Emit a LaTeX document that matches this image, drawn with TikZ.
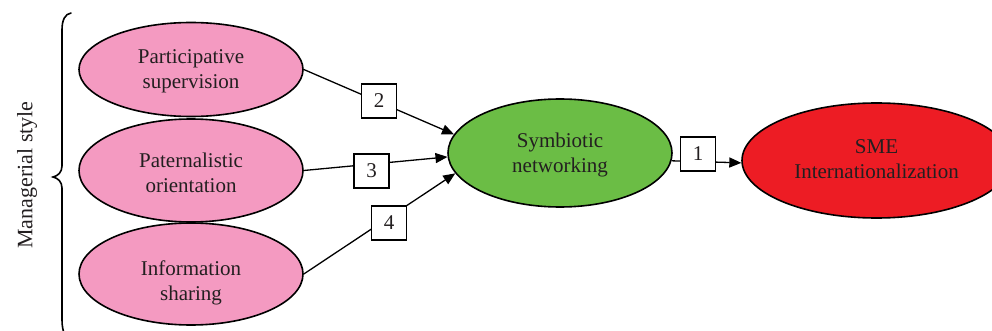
\documentclass[tikz,border=0pt]{standalone}
\usepackage{fontspec}
\setmainfont{Liberation Serif}
\usetikzlibrary{arrows.meta,shapes.geometric}
\definecolor{pinkfill}{HTML}{F49AC1}
\definecolor{greenfill}{HTML}{6BBD45}
\definecolor{redfill}{HTML}{ED1C24}
\definecolor{ink}{HTML}{231F20}
\begin{document}
\begin{tikzpicture}[x=1pt,y=-1pt,
  oval/.style={ellipse, draw=black, line width=1.6pt, inner sep=0pt},
  txt/.style={font=\fontsize{21}{25}\selectfont, align=center, text=ink, inner sep=0pt},
  numbox/.style={draw=black, fill=white, line width=1.6pt, minimum width=35pt, minimum height=34pt, inner sep=0pt, font=\fontsize{21}{25}\selectfont, text=ink},
  link/.style={line width=1.3pt, draw=black},
  arr/.style={link, -{Triangle[length=12pt,width=10pt]}}]
\clip (0,0) rectangle (992,331);
\fill[white] (0,0) rectangle (992,331);
% brace
\draw[line width=1.6pt, line cap=round] (71,13) .. controls (65,14) and (62,20) .. (62,30) -- (62,166)
  .. controls (62,172) and (58,176) .. (53,177) .. controls (58,178) and (62,182) .. (62,188)
  -- (62,320) .. controls (62,326) and (63,330) .. (64,333);
\node[txt, font=\fontsize{22}{26}\selectfont, rotate=90] (ms) at (27,175) {Managerial style};
% ellipses
\node[oval, fill=pinkfill, minimum width=224pt, minimum height=94pt] (p1) at (191,69.5) {};
\node[oval, fill=pinkfill, minimum width=224pt, minimum height=103pt] (p2) at (191,170.5) {};
\node[oval, fill=pinkfill, minimum width=224pt, minimum height=102pt] (p3) at (191,274) {};
\node[oval, fill=greenfill, minimum width=224pt, minimum height=108pt] (g) at (560,153) {};
\node[oval, fill=redfill, minimum width=269pt, minimum height=115pt] (r) at (876.5,160.5) {};
\node[txt] (t1) at (191,71) {Participative\\supervision};
\node[txt] (t2) at (191,172.5) {Paternalistic\\orientation};
\node[txt] (t3) at (191,282.5) {Information\\sharing};
\node[txt] (tg) at (560,155) {Symbiotic\\networking};
\node[txt] (tr) at (876.5,159) {SME\\Internationalization};
% connectors
\draw[arr] (p1.east) -- (g.170.5);
\draw[arr] (p2.east) -- (g.182);
\draw[arr] (p3.east) -- (g.191);
\draw[arr] (g.-4.7) -- (r.181);
% path number boxes
\node[numbox] (b2) at (379,101) {2};
\node[numbox] (b3) at (371.5,171) {3};
\node[numbox] (b4) at (389,223) {4};
\node[numbox] (b1) at (698,154) {1};
\end{tikzpicture}
\end{document}
